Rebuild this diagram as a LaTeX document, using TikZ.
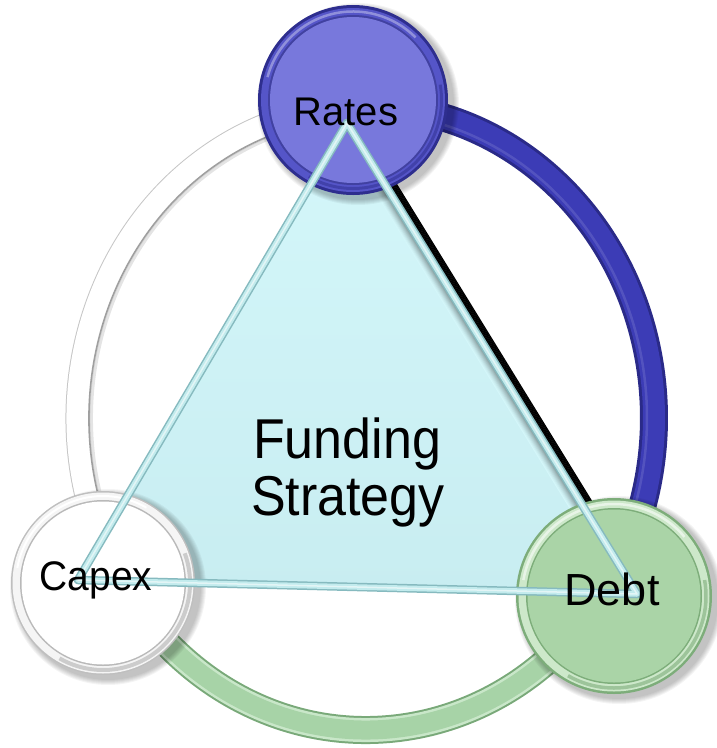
\documentclass[tikz,border=0pt]{standalone}
\usepackage{fontspec}
\setmainfont{Liberation Sans}
\usetikzlibrary{calc}
\definecolor{trifill}{HTML}{D4F7FA}
\definecolor{trifillB}{HTML}{C8EDF1}
\definecolor{triedge}{HTML}{86BABF}
\definecolor{triedgeL}{HTML}{C2EBED}
\definecolor{ringblue}{HTML}{3C3CB6}
\definecolor{ringblueD}{HTML}{2A2A88}
\definecolor{ringgreen}{HTML}{A7D3A7}
\definecolor{ringgreenL}{HTML}{C9E7C9}
\definecolor{ringgreenD}{HTML}{79A979}
\definecolor{ratesfill}{HTML}{7878DC}
\definecolor{ratesrim}{HTML}{5555C8}
\definecolor{ratesdark}{HTML}{2E2E8E}
\definecolor{debtfill}{HTML}{AAD4A7}
\definecolor{debtrim}{HTML}{CDE8CA}
\definecolor{debtdark}{HTML}{7DAD7A}
\begin{document}
\begin{tikzpicture}[x=1pt,y=-1pt,
  disc/.style={circle, inner sep=0pt, minimum size=#1},
  lbl/.style={font=\fontsize{#1}{#1}\selectfont, text=black, anchor=base, inner sep=0pt},
  ringarc/.style={line cap=butt},
  triedges/.style={line join=round}]
\useasboundingbox (0,0) rectangle (716,748);

% centre of the surrounding ring and the three discs
\coordinate (O) at (366,418);
\coordinate (cR) at (353,100);
\coordinate (cC) at (103,583);
\coordinate (cD) at (614,596);

% ---- surrounding ring, three coloured segments ----
% blue: Rates -> Debt
\draw[ringarc, ringblueD, line width=28] (O) ++(-95:288 and 312) arc[start angle=-95, end angle=36, x radius=288, y radius=312];
\draw[ringarc, ringblue, line width=22] (O) ++(-95:288 and 312) arc[start angle=-95, end angle=36, x radius=288, y radius=312];
\draw[ringarc, ringblue!80!white, line width=2.5, opacity=.6] (O) ++(-95:281 and 305) arc[start angle=-95, end angle=36, x radius=281, y radius=305];
% green: Debt -> Capex
\draw[ringarc, ringgreenD, line width=28] (O) ++(34:288 and 312) arc[start angle=34, end angle=152, x radius=288, y radius=312];
\draw[ringarc, ringgreenL, line width=24] (O) ++(34:288 and 312) arc[start angle=34, end angle=152, x radius=288, y radius=312];
\draw[ringarc, ringgreen, line width=19] (O) ++(34:288 and 312) arc[start angle=34, end angle=152, x radius=288, y radius=312];
% white: Capex -> Rates
\draw[ringarc, gray!45, line width=25] (O) ++(150:288 and 312) arc[start angle=150, end angle=268, x radius=288, y radius=312];
\draw[ringarc, white, line width=23] (O) ++(150:288 and 312) arc[start angle=150, end angle=268, x radius=288, y radius=312];
\draw[ringarc, gray!75, line width=1.6] (O) ++(150:277 and 301) arc[start angle=150, end angle=268, x radius=277, y radius=301];
\draw[ringarc, gray!30, line width=3, opacity=.7] (O) ++(150:274.5 and 298.5) arc[start angle=150, end angle=268, x radius=274.5, y radius=298.5];

% ---- triangle ----
\coordinate (A) at (347,123);
\coordinate (B) at (78,580);
\coordinate (D) at (637,594);
\shade[top color=trifill, bottom color=trifillB] (A) -- (B) -- (D) -- cycle;

% dark bevel band along the right side
\coordinate (S1) at ($(A)!0.12!(D)$);
\coordinate (S2) at ($(A)!0.83!(D)$);
\foreach \d in {-12,...,10} {
  \pgfmathsetmacro\f{min(100,100*((\d+12)/17)^1.4)}
  \draw[line width=1.3, color=black!\f!trifill]
    ($(S1)+(\d*0.852,-\d*0.523)$) -- ($(S2)+(\d*0.852,-\d*0.523)$);
}

% ---- soft shadows under the discs ----
\foreach \c/\r in {cR/95, cC/92, cD/98} {
  \foreach \k in {1,...,6}
    \fill[black, opacity=0.045] ($(\c)+(5,4)$) circle ({\r+7-\k});
}

% ---- discs ----
\node[disc=190, fill=ratesdark] (rates) at (cR) {};
\fill[ratesrim] (rates.center) circle (92);
\fill[ratesdark!75!ratesfill] (rates.center) circle (85);
\fill[ratesfill] (rates.center) circle (83);
\draw[white, opacity=.35, line width=2.5] ($(rates.center)+(195:88.5)$) arc[start angle=195, end angle=315, radius=88.5];
\draw[ratesdark, opacity=.5, line width=3] ($(rates.center)+(-10:88.5)$) arc[start angle=-10, end angle=120, radius=88.5];

\node[disc=184, fill=gray!50] (capex) at (cC) {};
\fill[gray!8] (capex.center) circle (90.5);
\fill[gray!55] (capex.center) circle (83);
\fill[white] (capex.center) circle (81.5);
\draw[gray!60, opacity=.6, line width=4] ($(capex.center)+(-20:87)$) arc[start angle=-20, end angle=120, radius=87];
\draw[white, line width=2] ($(capex.center)+(190:87)$) arc[start angle=190, end angle=300, radius=87];

\node[disc=196, fill=debtdark] (debt) at (cD) {};
\fill[debtrim] (debt.center) circle (95.5);
\fill[debtdark] (debt.center) circle (88);
\fill[debtfill] (debt.center) circle (86.5);
\draw[white, opacity=.55, line width=2.5] ($(debt.center)+(190:92)$) arc[start angle=190, end angle=320, radius=92];
\draw[debtdark, opacity=.6, line width=3.5] ($(debt.center)+(-10:92)$) arc[start angle=-10, end angle=120, radius=92];

% ---- triangle edges, drawn over the discs ----
\draw[triedges, triedge, line width=8.5] (A) -- (B) -- (D) -- cycle;
\draw[triedges, triedgeL, line width=5.5] (A) -- (B) -- (D) -- cycle;
\draw[triedges, white, opacity=.55, line width=1.5] (A) -- (B) -- (D) -- cycle;

% ---- labels ----
\node[lbl=40] (ratesT) at (346,125) {Rates};
\node[lbl=39] (capexT) at (96,590) {\scalebox{1}[1.06]{Capex}};
\node[lbl=45] (debtT) at (612,605) {Debt};
\node[lbl=52] (fundT) at (347,458) {\scalebox{1}[1.08]{Funding}};
\node[lbl=52] (stratT) at (348,515) {\scalebox{1}[1.08]{Strategy}};
\end{tikzpicture}
\end{document}
